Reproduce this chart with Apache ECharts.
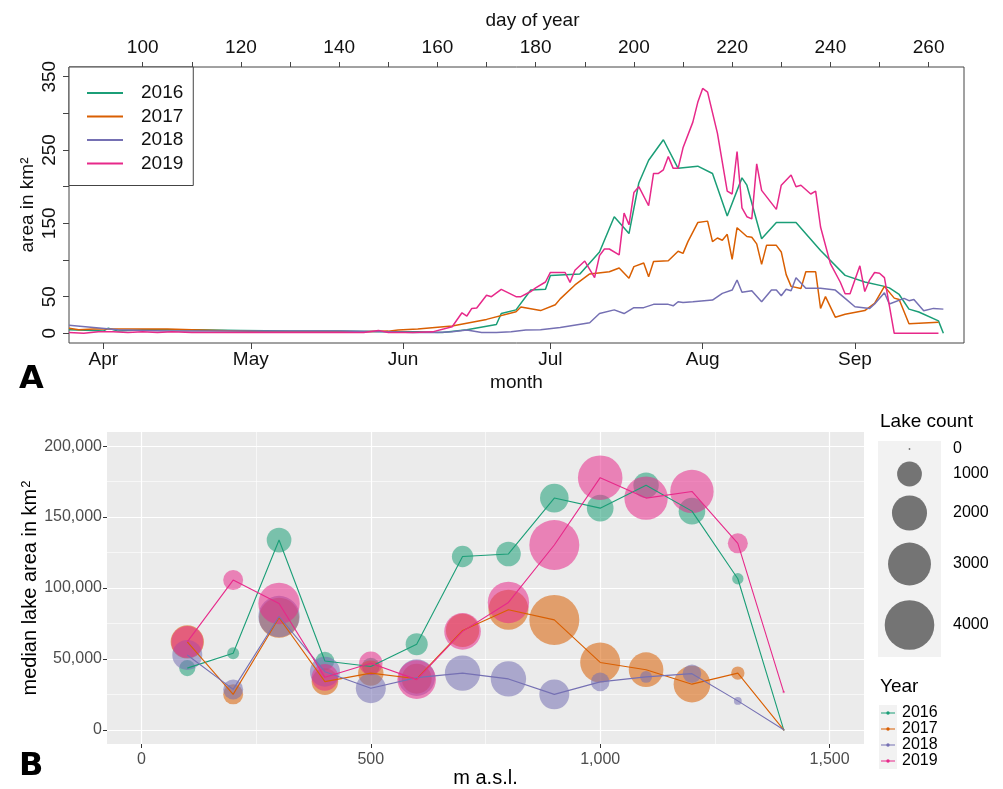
<!DOCTYPE html>
<html><head><meta charset="utf-8">
<script src="https://cdn.jsdelivr.net/npm/echarts@6/dist/echarts.min.js"></script>
<style>html,body{margin:0;padding:0;background:#fff}#c{width:1003px;height:789px}</style>
</head><body><div id="c"></div>
<script>
// ---------- shared ----------
const years = ['2016', '2017', '2018', '2019'];
const colors = ['#1B9E77', '#D95F02', '#7570B3', '#E7298A'];

// ---------- Panel A: lake area by day of year ----------
const dayTicks = [100, 110, 120, 130, 140, 150, 160, 170, 180, 190, 200, 210, 220, 230, 240, 250, 260];
const dayLabels = [100, 120, 140, 160, 180, 200, 220, 240, 260];
const monthDays = [92, 122, 153, 183, 214, 245];
const monthNames = ['Apr', 'May', 'Jun', 'Jul', 'Aug', 'Sep'];
const areaTicks = [0, 50, 100, 150, 200, 250, 300, 350];
const areaLabels = [0, 50, 150, 250, 350];

const days2016 = [85, 90, 92, 93, 95, 100, 110, 120, 130, 140, 150, 156, 161, 166, 172, 173, 176, 179, 182, 183, 189, 193, 196, 199, 201, 203, 206, 209, 213, 216, 219, 222, 223, 226, 229, 233, 238, 243, 247, 251, 252, 254, 256, 258, 262, 263];
const area2016 = [5, 4, 3, 7, 3, 5, 5, 4, 3, 3, 2, 2, 1, 5, 12, 27, 32, 59, 60, 79, 81, 111, 159, 136, 205, 236, 264, 225, 228, 218, 160, 212, 202, 129, 151, 151, 113, 79, 70, 64, 62, 53, 33, 29, 17, 0];

const days2017 = [85, 87, 90, 95, 100, 105, 110, 115, 120, 125, 130, 140, 145, 150, 152, 156, 163, 170, 176, 177, 181, 184, 185, 188, 191, 195, 197, 199, 200, 202, 203, 204, 207, 209, 210, 211, 213, 215, 216, 217, 218, 219, 220, 221, 223, 224, 225, 226, 227, 229, 230, 231, 232, 234, 235, 237, 238, 239, 241, 243, 247, 249, 251, 253, 254, 256, 262];
const area2017 = [7, 5, 6, 6, 6, 6, 5, 4, 3, 2, 2, 2, 2, 3, 4.5, 6, 10, 19, 29.5, 36, 31, 39, 47, 66, 81, 84, 89, 75, 91, 96, 77, 98, 99, 112, 109, 125, 151, 153, 125, 130, 127, 135, 101, 144, 132, 131, 122, 94, 120, 120, 111, 80, 64, 61, 84, 84, 34, 50, 22, 26, 31, 41, 64, 48, 46, 13, 15];

const days2018 = [85, 90, 95, 100, 105, 110, 120, 130, 140, 150, 155, 160, 163, 166, 169, 172, 175, 178, 181, 185, 191, 193, 196, 198, 200, 202, 204, 207, 208, 209, 210, 212, 216, 218, 220, 221, 222, 224, 226, 228, 229, 230, 231, 232, 233, 235, 238, 241, 243, 245, 248, 249, 251, 252, 255, 256, 257, 259, 261, 263];
const area2018 = [11, 8, 5, 4, 3, 3, 3, 3, 3, 2, 1, 1, 2, 4.5, 1, 1, 2, 4.5, 5, 8, 14.5, 27, 32, 27, 35, 35, 39.5, 39.5, 37.5, 43, 42, 43, 45.4, 54.5, 59, 72.7, 56, 58, 43, 59, 59, 51.3, 60, 58, 75.8, 61.4, 61.4, 59, 47.7, 36.3, 34, 40, 55.4, 40, 47.7, 44.5, 46, 30.8, 34, 33];

const days2019 = [85, 88, 91, 94, 97, 100, 103, 106, 110, 120, 130, 140, 145, 148, 150, 155, 159, 163, 165, 166, 167, 168, 170, 171, 173, 176, 177, 179, 180, 182, 183, 184, 186, 187, 188, 190, 192, 193, 194, 195, 197, 198, 199, 200, 201, 203, 204, 205, 206, 207, 208, 209, 210, 212, 213, 214, 215, 217, 219, 220, 221, 222, 223, 224, 225, 226, 229, 230, 232, 233, 234, 236, 237, 238, 240, 242, 243, 244, 246, 247, 248, 249, 250, 251, 253, 262];
const area2019 = [1, 0, 2, 2, 1, 2, 1, 2, 1, 1, 1, 1, 1, 4, 1, 1, 2, 9, 28, 23.6, 34, 34.5, 52, 50, 60, 50, 50, 57, 62, 70, 83, 83, 83, 69.5, 86, 98.6, 76, 106, 115, 115, 107, 164, 148, 192, 200, 174, 218, 218, 223, 241, 225, 225, 253, 288, 315, 334, 329, 273, 194, 190, 248, 171, 159, 156, 231, 195, 169, 202, 216, 200, 202, 190, 194, 145, 95, 70, 54, 54, 92, 57, 73, 83, 82, 76, 0, 0];

// ---------- Panel B: median lake area by elevation ----------
const elevations = [100, 200, 300, 400, 500, 600, 700, 800, 900, 1000, 1100, 1200, 1300, 1400];
const median2016 = [43500, 54000, 133800, 48500, 44700, 60400, 122200, 124000, 163400, 156300, 172500, 154200, 106500, 0];
const median2017 = [62000, 25000, 79000, 34000, 40000, 36000, 70100, 84700, 77500, 47500, 42400, 32200, 40000, 0];
const median2018 = [52800, 28500, 79900, 41000, 29300, 36800, 40000, 35900, 25000, 33800, 37300, 39600, 20400, 0];
const median2019 = [62000, 105600, 89100, 37000, 46900, 35400, 69400, 89800, 130300, 177800, 163400, 168100, 131500, 26600];
const count2016 = [420, 230, 990, 560, 500, 790, 740, 990, 1330, 1150, 1050, 1150, 210, 5];
const count2017 = [1800, 650, 2600, 1150, 1050, 1460, 1800, 2600, 4060, 2600, 1950, 2180, 290, 5];
const count2018 = [1460, 650, 2780, 1460, 1460, 2180, 2030, 2030, 1460, 560, 230, 560, 100, 5];
const count2019 = [1660, 650, 2780, 1150, 890, 2420, 2180, 2780, 4060, 3230, 3060, 3060, 650, 10];
const elevTicks = [0, 500, 1000, 1500];
const elevMinor = [250, 750, 1250];
const medianTicks = [0, 50000, 100000, 150000, 200000];
const medianMinor = [25000, 75000, 125000, 175000];
const lakeCountLegend = [0, 1000, 2000, 3000, 4000];

// ---------- helpers ----------
const FONT = 'Liberation Sans, Arial, sans-serif';
const daysA = [days2016, days2017, days2018, days2019];
const areaA = [area2016, area2017, area2018, area2019];
const medB = [median2016, median2017, median2018, median2019];
const cntB = [count2016, count2017, count2018, count2019];
const fmt = v => String(v).replace(/\B(?=(\d{3})+(?!\d))/g, ',');
const bubbleR = c => Math.max(0.9, 12.4 * Math.sqrt(c / 1000));

const series = [];
years.forEach((y, i) => {
  series.push({
    name: y, type: 'line', xAxisIndex: 0, yAxisIndex: 0,
    data: daysA[i].map((d, k) => [d, areaA[i][k]]),
    showSymbol: false, symbol: 'none', z: 2 + i,
    lineStyle: { width: 1.5, color: colors[i] }, itemStyle: { color: colors[i] }
  });
});
// panel B gridlines (drawn through the axis scales)
series.push({
  type: 'line', xAxisIndex: 2, yAxisIndex: 1, data: [], silent: true,
  markLine: {
    z: 1, silent: true, symbol: ['none', 'none'], label: { show: false }, animation: false,
    lineStyle: { color: '#ffffff', type: 'solid' },
    data: [
      ...elevMinor.map(v => ({ xAxis: v, lineStyle: { width: 0.6, color: '#fff', type: 'solid' } })),
      ...medianMinor.map(v => ({ yAxis: v, lineStyle: { width: 0.6, color: '#fff', type: 'solid' } })),
      ...elevTicks.map(v => ({ xAxis: v, lineStyle: { width: 1.2, color: '#fff', type: 'solid' } })),
      ...medianTicks.map(v => ({ yAxis: v, lineStyle: { width: 1.2, color: '#fff', type: 'solid' } }))
    ]
  }
});
years.forEach((y, i) => {
  series.push({
    name: y, type: 'scatter', xAxisIndex: 2, yAxisIndex: 1, z: 3 + i,
    data: elevations.map((e, k) => [e, medB[i][k], cntB[i][k]]),
    symbolSize: d => 2 * bubbleR(d[2]),
    itemStyle: { color: colors[i], opacity: 0.55 }
  });
});
years.forEach((y, i) => {
  series.push({
    name: y, type: 'line', xAxisIndex: 2, yAxisIndex: 1, z: 8 + i,
    data: elevations.map((e, k) => [e, medB[i][k]]),
    showSymbol: false, symbol: 'none',
    lineStyle: { width: 1.1, color: colors[i] }, itemStyle: { color: colors[i] }
  });
});

// legend graphics for panel B + panel letters
const g = [];
g.push({ type: 'text', left: 19, top: 364, style: { text: 'A', fontSize: 32, fontWeight: 'bold', fontFamily: 'DejaVu Sans', fill: '#000' } });
g.push({ type: 'text', left: 19, top: 751, style: { text: 'B', fontSize: 32, fontWeight: 'bold', fontFamily: 'DejaVu Sans', fill: '#000' } });
g.push({ type: 'text', x: 880, y: 422, style: { text: 'Lake count', fontSize: 19, fontFamily: FONT, fill: '#000', verticalAlign: 'middle' } });
g.push({ type: 'rect', shape: { x: 878, y: 441, width: 63, height: 216 }, style: { fill: '#F2F2F2' } });
const lcY = [449, 474, 513, 564, 625];
lakeCountLegend.forEach((c, k) => {
  g.push({ type: 'circle', shape: { cx: 909.5, cy: lcY[k], r: bubbleR(c) }, style: { fill: '#000', opacity: 0.52 } });
  g.push({ type: 'text', x: 953, y: lcY[k], style: { text: String(c), fontSize: 16, fontFamily: FONT, fill: '#000', verticalAlign: 'middle' } });
});
g.push({ type: 'text', x: 880, y: 687, style: { text: 'Year', fontSize: 19, fontFamily: FONT, fill: '#000', verticalAlign: 'middle' } });
g.push({ type: 'rect', shape: { x: 879, y: 705, width: 18, height: 64 }, style: { fill: '#F2F2F2' } });
const yrY = [713, 729, 745, 761];
years.forEach((y, i) => {
  g.push({ type: 'line', shape: { x1: 881, y1: yrY[i], x2: 895, y2: yrY[i] }, style: { stroke: colors[i], lineWidth: 1 } });
  g.push({ type: 'circle', shape: { cx: 888, cy: yrY[i], r: 1.7 }, style: { fill: colors[i] } });
  g.push({ type: 'text', x: 902, y: yrY[i], style: { text: y, fontSize: 16, fontFamily: FONT, fill: '#000', verticalAlign: 'middle' } });
});

const chart = echarts.init(document.getElementById('c'), null, { renderer: 'canvas' });
chart.setOption({
  animation: false,
  backgroundColor: '#ffffff',
  textStyle: { fontFamily: FONT },
  grid: [
    { left: 69, top: 67, width: 895, height: 276, show: true, borderColor: '#444', borderWidth: 1, backgroundColor: 'transparent', containLabel: false },
    { left: 107, top: 432, width: 757, height: 316, show: true, borderWidth: 0, backgroundColor: '#EBEBEB', containLabel: false }
  ],
  legend: [{
    data: years, left: 69, top: 67, orient: 'vertical', icon: 'rect', itemWidth: 36, itemHeight: 2, itemGap: 3.5,
    padding: [16, 10, 12, 18], borderColor: '#444', borderWidth: 1, backgroundColor: '#fff', selectedMode: false,
    textStyle: { fontSize: 19, color: '#111', fontFamily: FONT, padding: [0, 0, 0, 13], lineHeight: 20 }
  }],
  xAxis: [
    { // top: day of year
      type: 'value', gridIndex: 0, position: 'top', min: 85.0, max: 267.2,
      name: 'day of year', nameLocation: 'middle', nameGap: 37, nameMoveOverlap: false,
      nameTextStyle: { fontSize: 19, color: '#111', fontFamily: FONT, padding: [0, 0, 0, 32] },
      axisLine: { show: false, onZero: false },
      axisTick: { show: true, customValues: dayTicks, length: 5, inside: false, lineStyle: { color: '#444', width: 1 } },
      axisLabel: { customValues: dayLabels, fontSize: 19, color: '#111', margin: 10 },
      splitLine: { show: false }
    },
    { // bottom: month
      type: 'value', gridIndex: 0, position: 'bottom', min: 85.0, max: 267.2,
      name: 'month', nameLocation: 'middle', nameGap: 30, nameMoveOverlap: false,
      nameTextStyle: { fontSize: 19, color: '#111', fontFamily: FONT },
      axisLine: { show: false, onZero: false },
      axisTick: { show: true, customValues: monthDays, length: 6, lineStyle: { color: '#444', width: 1 } },
      axisLabel: { customValues: monthDays, fontSize: 19, color: '#111', margin: 7, formatter: v => monthNames[monthDays.indexOf(Math.round(v))] || '' },
      splitLine: { show: false }
    },
    { // panel B
      type: 'value', gridIndex: 1, position: 'bottom', min: -75, max: 1575,
      name: 'm a.s.l.', nameLocation: 'middle', nameGap: 24, nameMoveOverlap: false,
      nameTextStyle: { fontSize: 20, color: '#000', fontFamily: FONT },
      axisLine: { show: false, onZero: false },
      axisTick: { show: true, customValues: elevTicks, length: 4, lineStyle: { color: '#333', width: 1 } },
      axisLabel: { customValues: elevTicks, fontSize: 16, color: '#4D4D4D', margin: 8, formatter: v => fmt(v) },
      splitLine: { show: false }
    }
  ],
  yAxis: [
    {
      type: 'value', gridIndex: 0, position: 'left', min: -13.2, max: 363.2,
      name: 'area in km²', nameLocation: 'middle', nameGap: 32, nameRotate: 90, nameMoveOverlap: false,
      nameTextStyle: { fontSize: 19, color: '#111', fontFamily: FONT },
      axisLine: { show: false, onZero: false },
      axisTick: { show: true, customValues: areaTicks, length: 6, lineStyle: { color: '#444', width: 1 } },
      axisLabel: { customValues: areaLabels, fontSize: 19, color: '#111', margin: 10, rotate: 90 },
      splitLine: { show: false }
    },
    {
      type: 'value', gridIndex: 1, position: 'left', min: -10000, max: 210000,
      name: 'median lake area in km{sup|2}', nameLocation: 'middle', nameGap: 66, nameRotate: 90, nameMoveOverlap: false,
      nameTextStyle: { fontSize: 20, color: '#000', fontFamily: FONT, rich: { sup: { fontSize: 13, verticalAlign: 'top', padding: [0, 0, 8, 1] } } },
      axisLine: { show: false, onZero: false },
      axisTick: { show: true, customValues: medianTicks, length: 4, lineStyle: { color: '#333', width: 1 } },
      axisLabel: { customValues: medianTicks, fontSize: 16, color: '#4D4D4D', margin: 5, formatter: v => fmt(v) },
      splitLine: { show: false }
    }
  ],
  graphic: g,
  series: series
});
</script></body></html>
